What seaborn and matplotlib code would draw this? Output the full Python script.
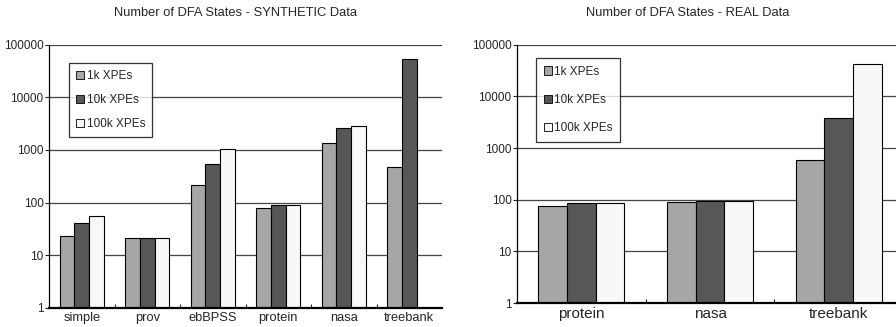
import numpy as np
import pandas as pd
import matplotlib
matplotlib.use("Agg")
import matplotlib.pyplot as plt
import seaborn as sns

syn_categories = ["simple", "prov", "ebBPSS", "protein", "nasa", "treebank"]
syn_1k = [23, 21, 213, 79, 1350, 483]
syn_10k = [40, 21, 535, 90, 2630, 53900]
syn_100k = [56, 21, 1060, 90, 2900, np.nan]

real_categories = ["protein", "nasa", "treebank"]
real_1k = [75, 90, 581]
real_10k = [86, 94, 3770]
real_100k = [86, 94, 43000]

series_names = ["1k XPEs", "10k XPEs", "100k XPEs"]
colors = ["#a6a6a6", "#575757", "#f8f8f8"]
yticks = [1, 10, 100, 1000, 10000, 100000]

sns.set_theme(style="white")
plt.rcParams["font.family"] = ["Liberation Sans", "DejaVu Sans"]

fig = plt.figure(figsize=(8.96, 3.27), dpi=100)
ax1 = fig.add_axes([49/896, 1-307.7/327, (442-49)/896, (307.7-44.7)/327])
ax2 = fig.add_axes([517/896, 1-303/327, 3*128.7/896, (303-44.7)/327])


def make_df(cats, a, b, c):
    rows = []
    for name, vals in zip(series_names, [a, b, c]):
        for cat, v in zip(cats, vals):
            rows.append({"cat": cat, "series": name, "value": v})
    return pd.DataFrame(rows)


def draw(ax, cats, a, b, c, legend_bbox, xfs, labsp, bpad):
    df = make_df(cats, a, b, c)
    sns.barplot(data=df, x="cat", y="value", hue="series", hue_order=series_names,
                palette=colors, edgecolor="black", linewidth=0.8, width=0.67,
                gap=0, ax=ax, zorder=3)
    ax.set_yscale("log")
    ax.set_ylim(1, 100000)
    ax.set_xlim(-0.5, len(cats) - 0.5)
    ax.set_yticks(yticks)
    ax.set_yticklabels([str(t) for t in yticks], fontsize=8.5)
    ax.minorticks_off()
    ax.set_xticks(range(len(cats)))
    ax.set_xticklabels(cats, fontsize=xfs)
    ax.tick_params(axis="x", length=0, pad=3)
    ax.tick_params(axis="y", length=3, width=0.8, direction="out", pad=1, left=True)
    ax.set_xticks(np.arange(0.5, len(cats) - 0.5, 1), minor=True)
    ax.tick_params(axis="x", which="minor", direction="in", length=3, width=0.8, bottom=True)
    ax.set_xlabel("")
    ax.set_ylabel("")
    for t in yticks[1:]:
        ax.axhline(t, color="#444444", lw=0.9, zorder=1)
    for s in ["top", "right"]:
        ax.spines[s].set_visible(False)
    ax.spines["left"].set_color("black")
    ax.spines["left"].set_linewidth(0.9)
    ax.spines["bottom"].set_color("black")
    ax.spines["bottom"].set_linewidth(1.6)
    ax.spines["bottom"].set_zorder(5)
    leg = ax.legend(loc="upper left", bbox_to_anchor=legend_bbox, fontsize=8.5,
                    frameon=True, fancybox=False, edgecolor="black",
                    handlelength=0.7, handleheight=0.7, handletextpad=0.2,
                    labelspacing=labsp, borderpad=bpad, borderaxespad=0)
    leg.get_frame().set_linewidth(0.9)
    for h in leg.legend_handles:
        h.set_edgecolor("black")
        h.set_linewidth(0.6)


draw(ax1, syn_categories, syn_1k, syn_10k, syn_100k,
     ((69-49)/(442-49), 1-(63-44.7)/(307.7-44.7)), 9.3, 1.02, 0.6)
draw(ax2, real_categories, real_1k, real_10k, real_100k,
     ((536-517)/(3*128.7), 1-(58-44.7)/(303-44.7)), 11, 1.37, 0.65)

fig.text(235/896, 1-13/327, "Number of DFA States - SYNTHETIC Data",
         ha="center", va="center", fontsize=9.3)
fig.text(688/896, 1-13/327, "Number of DFA States - REAL Data",
         ha="center", va="center", fontsize=9.3)

fig.savefig("out.png", dpi=100)
